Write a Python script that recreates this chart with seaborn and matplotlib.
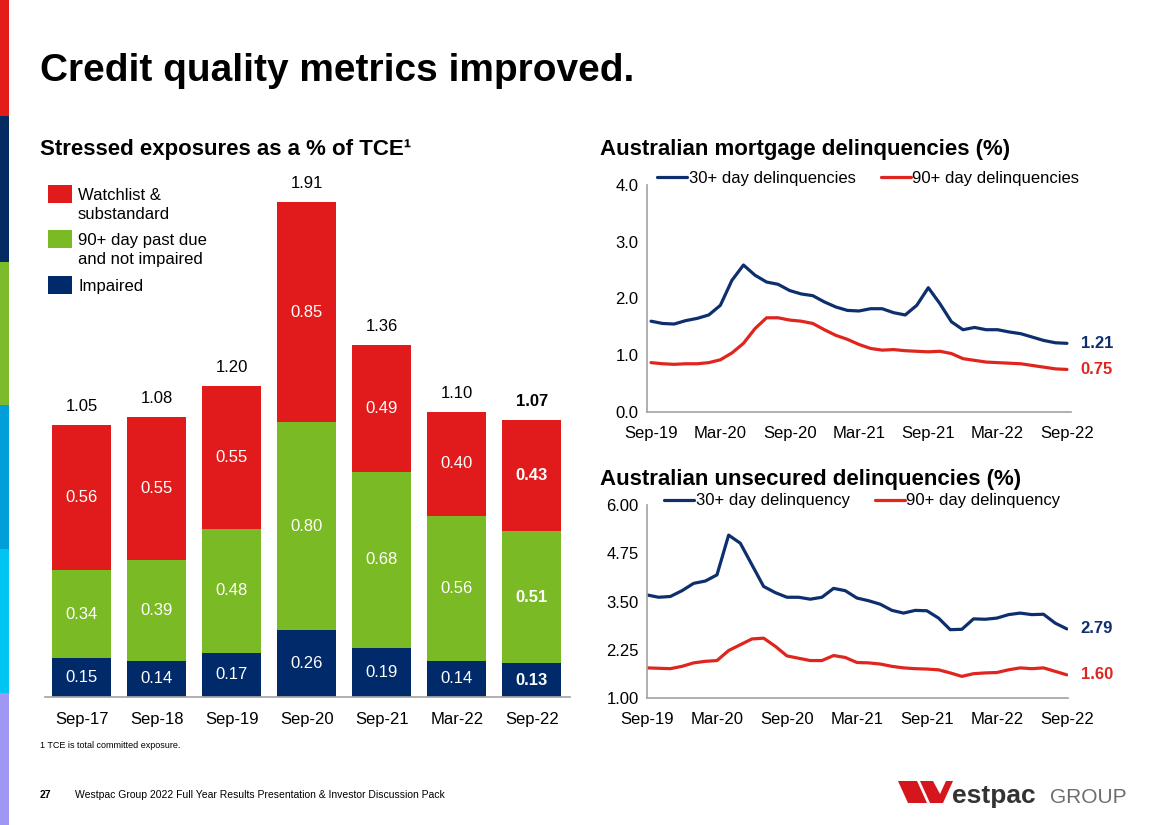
import matplotlib
matplotlib.use("Agg")
import matplotlib.pyplot as plt
from matplotlib.patches import Polygon, Rectangle
import seaborn as sns
import pandas as pd

# ---- data ----
periods = ["Sep-17", "Sep-18", "Sep-19", "Sep-20", "Sep-21", "Mar-22", "Sep-22"]
impaired = [0.15, 0.14, 0.17, 0.26, 0.19, 0.14, 0.13]
past_due = [0.34, 0.39, 0.48, 0.80, 0.68, 0.56, 0.51]
watchlist = [0.56, 0.55, 0.55, 0.85, 0.49, 0.40, 0.43]
totals = [1.05, 1.08, 1.20, 1.91, 1.36, 1.10, 1.07]

month_ticks = ["Sep-19", "Mar-20", "Sep-20", "Mar-21", "Sep-21", "Mar-22", "Sep-22"]

mort_30 = [1.60, 1.56, 1.55, 1.61, 1.65, 1.71, 1.88, 2.32, 2.59, 2.41, 2.29, 2.25,
           2.14, 2.08, 2.05, 1.94, 1.85, 1.79, 1.78, 1.82, 1.82, 1.75, 1.71, 1.88,
           2.19, 1.91, 1.59, 1.45, 1.49, 1.45, 1.45, 1.41, 1.38, 1.32, 1.26, 1.22, 1.21]
mort_90 = [0.87, 0.85, 0.84, 0.85, 0.85, 0.87, 0.92, 1.04, 1.21, 1.47, 1.66, 1.66,
           1.62, 1.60, 1.56, 1.45, 1.35, 1.28, 1.19, 1.12, 1.09, 1.10, 1.08, 1.07,
           1.06, 1.07, 1.03, 0.94, 0.91, 0.88, 0.87, 0.86, 0.85, 0.82, 0.79, 0.76, 0.75]

unsec_30 = [3.67, 3.61, 3.63, 3.78, 3.97, 4.03, 4.19, 5.22, 5.01, 4.45, 3.89, 3.73,
            3.61, 3.61, 3.56, 3.61, 3.84, 3.78, 3.59, 3.52, 3.43, 3.27, 3.20, 3.27,
            3.26, 3.07, 2.77, 2.78, 3.05, 3.04, 3.07, 3.16, 3.20, 3.16, 3.17, 2.94, 2.79]
unsec_90 = [1.78, 1.77, 1.76, 1.82, 1.91, 1.95, 1.97, 2.23, 2.38, 2.53, 2.55, 2.34,
            2.09, 2.03, 1.97, 1.97, 2.10, 2.05, 1.92, 1.91, 1.88, 1.82, 1.78, 1.76,
            1.75, 1.73, 1.65, 1.56, 1.63, 1.65, 1.66, 1.73, 1.78, 1.76, 1.78, 1.69, 1.60]

RED = "#E11B1B"
GREEN = "#7ABA24"
NAVY = "#002A6A"
LNAVY = "#0D2F6E"
LRED = "#E0251F"
GREY = "#A6A6A6"

sns.set_theme(style="white")
plt.rcParams["font.family"] = ["Liberation Sans", "DejaVu Sans"]
plt.rcParams["text.color"] = "black"
plt.rcParams["xtick.color"] = "black"
plt.rcParams["ytick.color"] = "black"

W, H = 1168, 825
fig = plt.figure(figsize=(W / 100, H / 100), dpi=100)


def box(l, t, r, b):
    return [l / W, 1 - b / H, (r - l) / W, (b - t) / H]


# overlay layer in pixel coordinates (strip, titles, legend, footer, logo)
bg = fig.add_axes([0, 0, 1, 1])
bg.set_xlim(0, W)
bg.set_ylim(H, 0)
bg.axis("off")
bg.set_zorder(10)

strip = [(-30, 116, "#E31B1B"), (116, 262, "#062A62"), (262, 405, "#7CBB2A"),
         (405, 549, "#009FDA"), (549, 693, "#00C4F2"), (693, 825, "#A097F5")]
for y0, y1, c in strip:
    bg.add_patch(Rectangle((0, y0), 9, y1 - y0, color=c, lw=0))

bg.text(40, 71, "Credit quality metrics improved.", fontsize=28, fontweight="bold",
        va="center")
bg.text(40, 150, "Stressed exposures as a % of TCE\u00b9", fontsize=16, fontweight="bold",
        va="center")
bg.text(600, 150, "Australian mortgage delinquencies (%)", fontsize=16, fontweight="bold",
        va="center")
bg.text(600, 480, "Australian unsecured delinquencies (%)", fontsize=16, fontweight="bold",
        va="center")
bg.text(40, 745, "1 TCE is total committed exposure.", fontsize=6.5, va="center")
bg.text(40, 795, "27", fontsize=7.5, fontweight="bold", va="center")
bg.text(75, 795, "Westpac Group 2022 Full Year Results Presentation & Investor Discussion Pack",
        fontsize=7.5, va="center")

# left legend
for (y0, c, lab) in [(185, RED, "Watchlist &\nsubstandard"),
                     (230, GREEN, "90+ day past due\nand not impaired"),
                     (276, NAVY, "Impaired")]:
    bg.add_patch(Rectangle((48, y0), 24, 18, color=c, lw=0))
    bg.text(78, y0 + 3, lab, fontsize=12, va="top", linespacing=1.3)

# logo
bg.add_patch(Polygon([(898, 781), (917, 781), (927, 803), (908, 803)], color="#D5161C", lw=0))
bg.add_patch(Polygon([(920, 781), (933, 781), (940, 794), (946, 781), (953, 781),
                      (943, 803), (930, 803)], color="#D5161C", lw=0))
bg.text(952, 803, "estpac", fontsize=19, fontweight="bold", color="#333333", va="baseline")
bg.text(1050, 803, "GROUP", fontsize=15, color="#6E6E6E", va="baseline")


def baseline_ticks(a, pad_px):
    # put x tick labels on a common baseline
    for lbl in a.get_xticklabels():
        lbl.set_va("baseline")
    a.tick_params(axis="x", pad=pad_px * 0.72)


# ---- stacked bars ----
ax = fig.add_axes(box(45, 179, 570, 697))
bar_kw = dict(ax=ax, width=0.79, saturation=1, linewidth=0)
sns.barplot(x=periods, y=totals, color=RED, **bar_kw)
sns.barplot(x=periods, y=[a + b for a, b in zip(impaired, past_due)], color=GREEN, **bar_kw)
sns.barplot(x=periods, y=impaired, color=NAVY, **bar_kw)
ax.set_ylim(0, 2.0)
ax.set_xlim(-0.49, 6.51)
ax.set_yticks([])
ax.patch.set_alpha(0)
sns.despine(ax=ax, left=True)
ax.spines["bottom"].set_color(GREY)
ax.tick_params(axis="x", length=0, labelsize=12)
baseline_ticks(ax, 27)
ax.set_xlabel("")
ax.set_ylabel("")
for i in range(len(periods)):
    wt = "bold" if i == len(periods) - 1 else "normal"
    ax.text(i, impaired[i] / 2, f"{impaired[i]:.2f}", ha="center", va="center",
            color="white", fontsize=12, fontweight=wt)
    ax.text(i, impaired[i] + past_due[i] / 2, f"{past_due[i]:.2f}", ha="center",
            va="center", color="white", fontsize=12, fontweight=wt)
    ax.text(i, impaired[i] + past_due[i] + watchlist[i] / 2, f"{watchlist[i]:.2f}",
            ha="center", va="center", color="white", fontsize=12, fontweight=wt)
    ax.annotate(f"{totals[i]:.2f}", (i, totals[i]), xytext=(0, 8),
                textcoords="offset points", ha="center", va="bottom", fontsize=12,
                fontweight=wt)


# ---- line charts ----
def line_panel(rect, s30, s90, labels, ylim, yticks, yfmt, xlim, leg_xy):
    a = fig.add_axes(rect)
    idx = list(range(len(s30)))
    df = pd.DataFrame({"m": idx * 2, "v": s30 + s90,
                       "s": [labels[0]] * len(s30) + [labels[1]] * len(s90)})
    sns.lineplot(data=df, x="m", y="v", hue="s", palette=[LNAVY, LRED], lw=2.3, ax=a)
    a.set_xlim(*xlim)
    a.set_ylim(*ylim)
    a.set_yticks(yticks)
    a.set_yticklabels([yfmt.format(t) for t in yticks])
    a.set_xticks(range(0, 37, 6))
    a.set_xticklabels(month_ticks)
    a.tick_params(length=0, labelsize=12)
    a.tick_params(axis="y", pad=6)
    baseline_ticks(a, 26)
    a.patch.set_alpha(0)
    sns.despine(ax=a)
    for sp in ("left", "bottom"):
        a.spines[sp].set_color(GREY)
    a.set_xlabel("")
    a.set_ylabel("")
    h, l = a.get_legend_handles_labels()
    a.legend(h, l, loc="center left", bbox_to_anchor=(leg_xy[0] / W, 1 - leg_xy[1] / H),
             bbox_transform=fig.transFigure, ncol=2, frameon=False, fontsize=12,
             handlelength=1.8, handletextpad=0.1, columnspacing=1.5, borderpad=0,
             borderaxespad=0)
    for s, c in ((s30, LNAVY), (s90, LRED)):
        a.annotate(f"{s[-1]:.2f}", (36, s[-1]), xytext=(10, 0), textcoords="offset points",
                   ha="left", va="center", fontsize=12, fontweight="bold", color=c,
                   annotation_clip=False)
    return a


line_panel(box(647, 185, 1071, 412), mort_30, mort_90,
           ["30+ day delinquencies", "90+ day delinquencies"],
           (0, 4), [0, 1, 2, 3, 4], "{:.1f}", (-0.35, 36.35), (657, 178))
line_panel(box(647, 505, 1068, 698), unsec_30, unsec_90,
           ["30+ day delinquency", "90+ day delinquency"],
           (1, 6), [1.0, 2.25, 3.5, 4.75, 6.0], "{:.2f}", (0, 36.1), (664, 501))

fig.savefig("out.png", dpi=100)
